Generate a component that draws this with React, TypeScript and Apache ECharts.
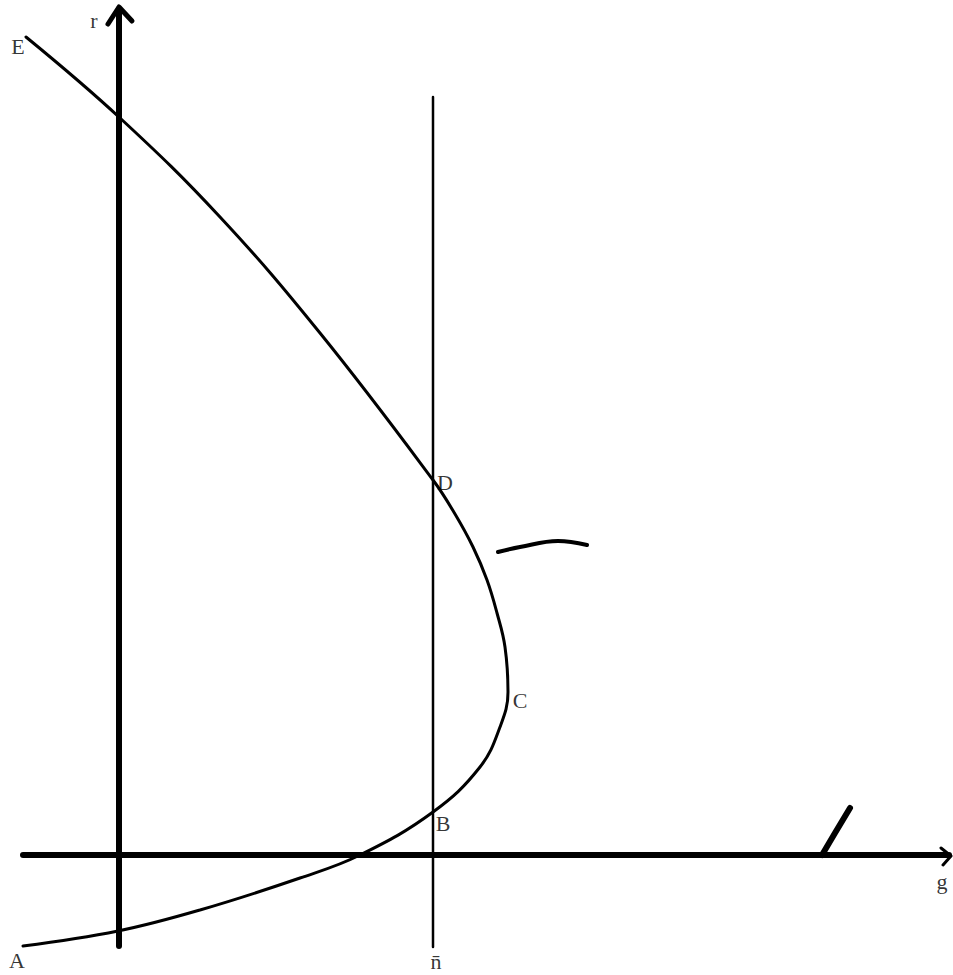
import React, { useEffect, useRef } from "react";
import * as echarts from "echarts";

// Diagram coordinates: origin where the g axis meets the r axis (units = px of the original scan)
const curveABCDE: [number, number][] = [
  [-96, -91], [-1, -76], [81, -55], [181, -23], [241, 0], [314, 43], [361, 88],
  [381, 128], [389, 163], [386, 208], [378, 242], [368, 275], [354, 308], [336, 341],
  [314, 375], [201, 522], [101, 638], [1, 737], [-93, 818],
];
const rAxisLine: [number, number][] = [[0, -91], [0, 846]];
const rArrow: [number, number][] = [[-11, 831], [0, 848], [13, 834]];
const gAxisLine: [number, number][] = [[-96, 0], [830, 0]];
const gArrow: [number, number][] = [[822, 7], [832, -1], [824, -10]];
const nBarLine: [number, number][] = [[314, 758], [314, -92]];
const penStroke: [number, number][] = [[379, 303], [401, 308], [439, 314], [468, 310]];
const penMark: [number, number][] = [[703, 0], [716, 22], [731, 47]];
const pointLabels: { name: string; value: [number, number] }[] = [
  { name: "r", value: [-25, 835] },
  { name: "E", value: [-101, 809] },
  { name: "D", value: [326, 373] },
  { name: "C", value: [401, 155] },
  { name: "B", value: [324, 32] },
  { name: "g", value: [823, -26] },
  { name: "n̄", value: [317, -106] },
  { name: "A", value: [-102, -105] },
];

const lineSeries = (data: [number, number][], width: number, smooth: number | boolean = false) => ({
  type: "line",
  data,
  smooth,
  symbol: "none",
  lineStyle: { color: "#000", width, cap: "round", join: "round" },
  silent: true,
  z: 2,
});

export default function App() {
  const ref = useRef<HTMLDivElement>(null);
  useEffect(() => {
    if (!ref.current) return;
    const chart = echarts.init(ref.current, undefined, { renderer: "svg" });
    chart.setOption({
      animation: false,
      backgroundColor: "#fff",
      grid: { left: 0, top: 0, width: 953, height: 975 },
      xAxis: { type: "value", min: -119, max: 834, show: false },
      yAxis: { type: "value", min: -120, max: 855, show: false },
      series: [
        lineSeries(rAxisLine, 6),
        lineSeries(rArrow, 5),
        lineSeries(gAxisLine, 6),
        lineSeries(gArrow, 3),
        lineSeries(nBarLine, 2.5),
        lineSeries(curveABCDE, 3, 0.4),
        lineSeries(penStroke, 4, 0.4),
        lineSeries(penMark, 6),
        {
          type: "scatter",
          data: pointLabels,
          symbolSize: 0,
          silent: true,
          label: {
            show: true,
            position: "inside",
            formatter: (p: any) => p.name,
            color: "#000",
            fontFamily: "Liberation Serif",
            fontSize: 22,
          },
          z: 3,
        },
      ],
    });
    return () => chart.dispose();
  }, []);
  return (
    <div
      ref={ref}
      style={{ position: "fixed", left: 0, top: 0, width: 953, height: 975, background: "#fff" }}
    />
  );
}
